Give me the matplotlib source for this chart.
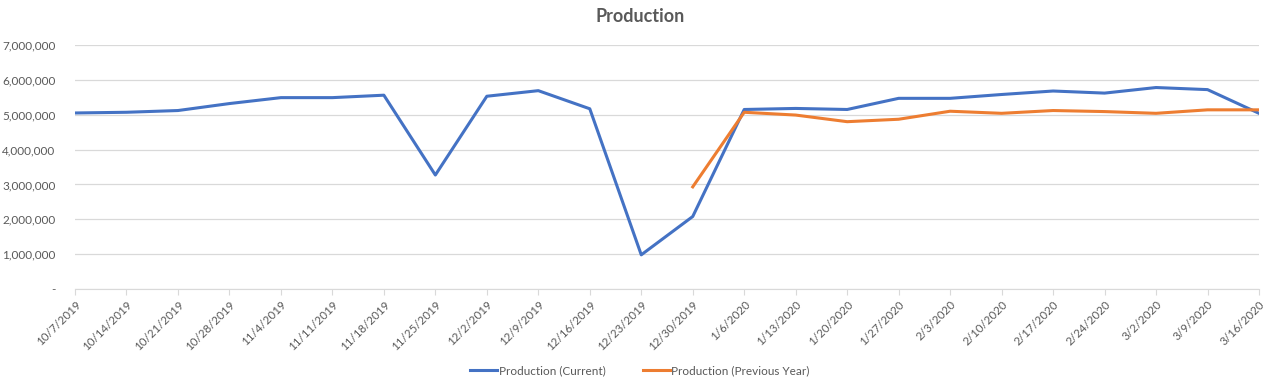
import matplotlib
matplotlib.use("Agg")
import matplotlib.pyplot as plt
from matplotlib.ticker import FuncFormatter
import numpy as np

dates = ["10/7/2019", "10/14/2019", "10/21/2019", "10/28/2019", "11/4/2019", "11/11/2019",
         "11/18/2019", "11/25/2019", "12/2/2019", "12/9/2019", "12/16/2019", "12/23/2019",
         "12/30/2019", "1/6/2020", "1/13/2020", "1/20/2020", "1/27/2020", "2/3/2020",
         "2/10/2020", "2/17/2020", "2/24/2020", "3/2/2020", "3/9/2020", "3/16/2020"]
current = [5050000, 5070000, 5120000, 5320000, 5490000, 5490000, 5560000, 3270000,
           5530000, 5690000, 5170000, 980000, 2080000, 5150000, 5180000, 5150000,
           5470000, 5470000, 5580000, 5680000, 5620000, 5780000, 5720000, 5040000]
previous = [np.nan] * 12 + [2930000, 5070000, 4990000, 4800000, 4870000, 5100000,
                            5040000, 5120000, 5090000, 5040000, 5140000, 5140000]

plt.rcParams['font.family'] = ['Lato', 'DejaVu Sans']
fig = plt.figure(figsize=(12.8, 3.91), dpi=100)
ax = fig.add_axes([75/1280, 1 - 289/391, (1259 - 75)/1280, (289 - 45)/391])

x = np.arange(len(dates))
ax.plot(x, current, color="#4472C4", lw=2.2, label="Production (Current)", solid_joinstyle='round')
ax.plot(x, previous, color="#ED7D31", lw=2.2, label="Production (Previous Year)", solid_joinstyle='round')

ax.set_xlim(0, len(dates) - 1)
ax.set_ylim(0, 7000000)
ax.set_yticks(np.arange(0, 7000001, 1000000))
ax.yaxis.set_major_formatter(FuncFormatter(lambda v, p: "-" if v == 0 else f"{int(v):,}"))
ax.set_xticks(x)
ax.set_xticklabels(dates, rotation=45, ha="right", rotation_mode="anchor")

ax.grid(axis="y", color="#d9d9d9", lw=0.9)
ax.set_axisbelow(True)
for s in ["top", "right", "left"]:
    ax.spines[s].set_visible(False)
ax.spines["bottom"].set_color("#d9d9d9")
ax.tick_params(axis="y", length=0, labelsize=8.5, labelcolor="#595959", pad=14)
ax.tick_params(axis="x", length=4, color="#d9d9d9", labelsize=8.3, labelcolor="#595959", pad=3)

fig.text(0.5, 1 - 17/391, "Production", ha="center", va="center", fontsize=13,
         fontweight="bold", color="#595959")
fig.legend(loc="center", bbox_to_anchor=(0.5, 1 - 371/391), ncol=2, frameon=False,
           fontsize=8.5, labelcolor="#595959", handlelength=2.3, columnspacing=3.2, handletextpad=0.1)

fig.savefig("out.png", dpi=100)
